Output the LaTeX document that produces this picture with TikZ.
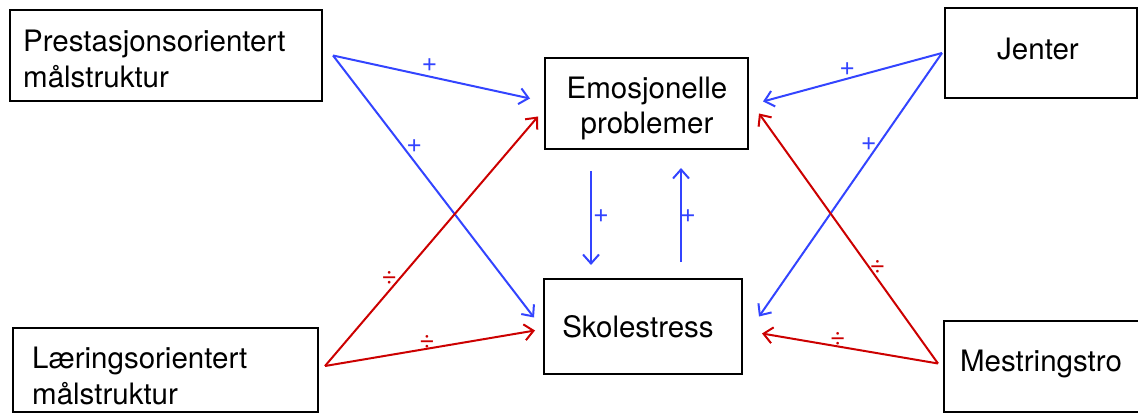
\documentclass[tikz,border=0pt]{standalone}
\usepackage{fontspec}
\setmainfont{TeX Gyre Heros}
\usetikzlibrary{arrows.meta,calc}
\definecolor{pblue}{RGB}{51,68,255}
\definecolor{pred}{RGB}{204,0,0}
\begin{document}
\begin{tikzpicture}[x=1pt,y=-1pt,
  box/.style={draw=black, line width=2pt, rectangle, inner sep=0pt},
  txt/.style={inner sep=0pt, font=\fontsize{29.5}{36}\selectfont},
  ltxt/.style={txt, anchor=base west},
  ctxt/.style={txt, anchor=base},
  conn/.style={line width=2pt, -{Straight Barb[length=9pt,width=16pt]}},
  posarrow/.style={conn, pblue},
  negarrow/.style={conn, pred},
  lab/.style={inner sep=0pt, font=\fontsize{27}{27}\selectfont},
]
\useasboundingbox (0,0) rectangle (1138,414);
% boxes
\node[box, minimum width=312, minimum height=91] (P) at (166,55.5) {};
\node[box, minimum width=203, minimum height=91] (E) at (646.5,103.5) {};
\node[box, minimum width=192, minimum height=90] (J) at (1041,53) {};
\node[box, minimum width=198, minimum height=95] (S) at (643,326.5) {};
\node[box, minimum width=305, minimum height=84] (L) at (165.5,370) {};
\node[box, minimum width=196, minimum height=91] (M) at (1042,366.5) {};
% texts
\node[ltxt] (P1) at (23,52) {Prestasjonsorientert};
\node[ltxt] (P2) at (23,88) {målstruktur};
\node[ctxt] (E1) at (647,99) {Emosjonelle};
\node[ctxt] (E2) at (647,134) {problemer};
\node[ctxt] (J1) at (1038,60) {Jenter};
\node[ctxt] (S1) at (638,337) {Skolestress};
\node[ltxt] (L1) at (32,368) {Læringsorientert};
\node[ltxt] (L2) at (32,404) {målstruktur};
\node[ctxt] (M1) at (1041,371) {Mestringstro};
% connector end points
\coordinate (p0) at ($(P.east)+(10,0)$);
\coordinate (l0) at ($(L.east)+(6,-4)$);
\coordinate (j0) at ($(J.west)+(-2,0)$);
\coordinate (m0) at ($(M.west)+(-5,-3)$);
\coordinate (epe) at ($(E.west)+(-14,-5)$);
\coordinate (esp) at ($(S.west)+(-9,-9)$);
\coordinate (ele) at ($(E.west)+(-6,13)$);
\coordinate (els) at ($(S.west)+(-8,4)$);
\coordinate (eje) at ($(E.east)+(14,-2)$);
\coordinate (ejs) at ($(S.east)+(16,-10)$);
\coordinate (eme) at ($(E.east)+(10,10)$);
\coordinate (ems) at ($(S.east)+(19,7)$);
\coordinate (d0) at ($(E.south)+(-55.5,21)$);
\coordinate (d1) at ($(S.north)+(-52,-13)$);
\coordinate (u0) at ($(S.north)+(38,-16)$);
\coordinate (u1) at ($(E.south)+(34.5,18)$);
% connectors
\draw[posarrow] (p0) -- node[lab, pos=0.49, yshift=11] (t1) {+} (epe);
\draw[posarrow] (p0) -- node[lab, pos=0.344, xshift=12] (t2) {+} (esp);
\draw[negarrow] (l0) -- node[lab, pos=0.353, xshift=-11] (t3) {÷} (ele);
\draw[negarrow] (l0) -- node[lab, pos=0.486, yshift=7] (t4) {÷} (els);
\draw[posarrow] (j0) -- node[lab, pos=0.53, yshift=10] (t5) {+} (eje);
\draw[posarrow] (j0) -- node[lab, pos=0.346, xshift=-10] (t6) {+} (ejs);
\draw[negarrow] (m0) -- node[lab, pos=0.388, xshift=9] (t7) {÷} (eme);
\draw[negarrow] (m0) -- node[lab, pos=0.57, yshift=7] (t8) {÷} (ems);
\draw[posarrow] (d0) -- node[lab, pos=0.48, xshift=10] (t9) {+} (d1);
\draw[posarrow] (u0) -- node[lab, pos=0.49, xshift=7] (t10) {+} (u1);
\end{tikzpicture}
\end{document}
